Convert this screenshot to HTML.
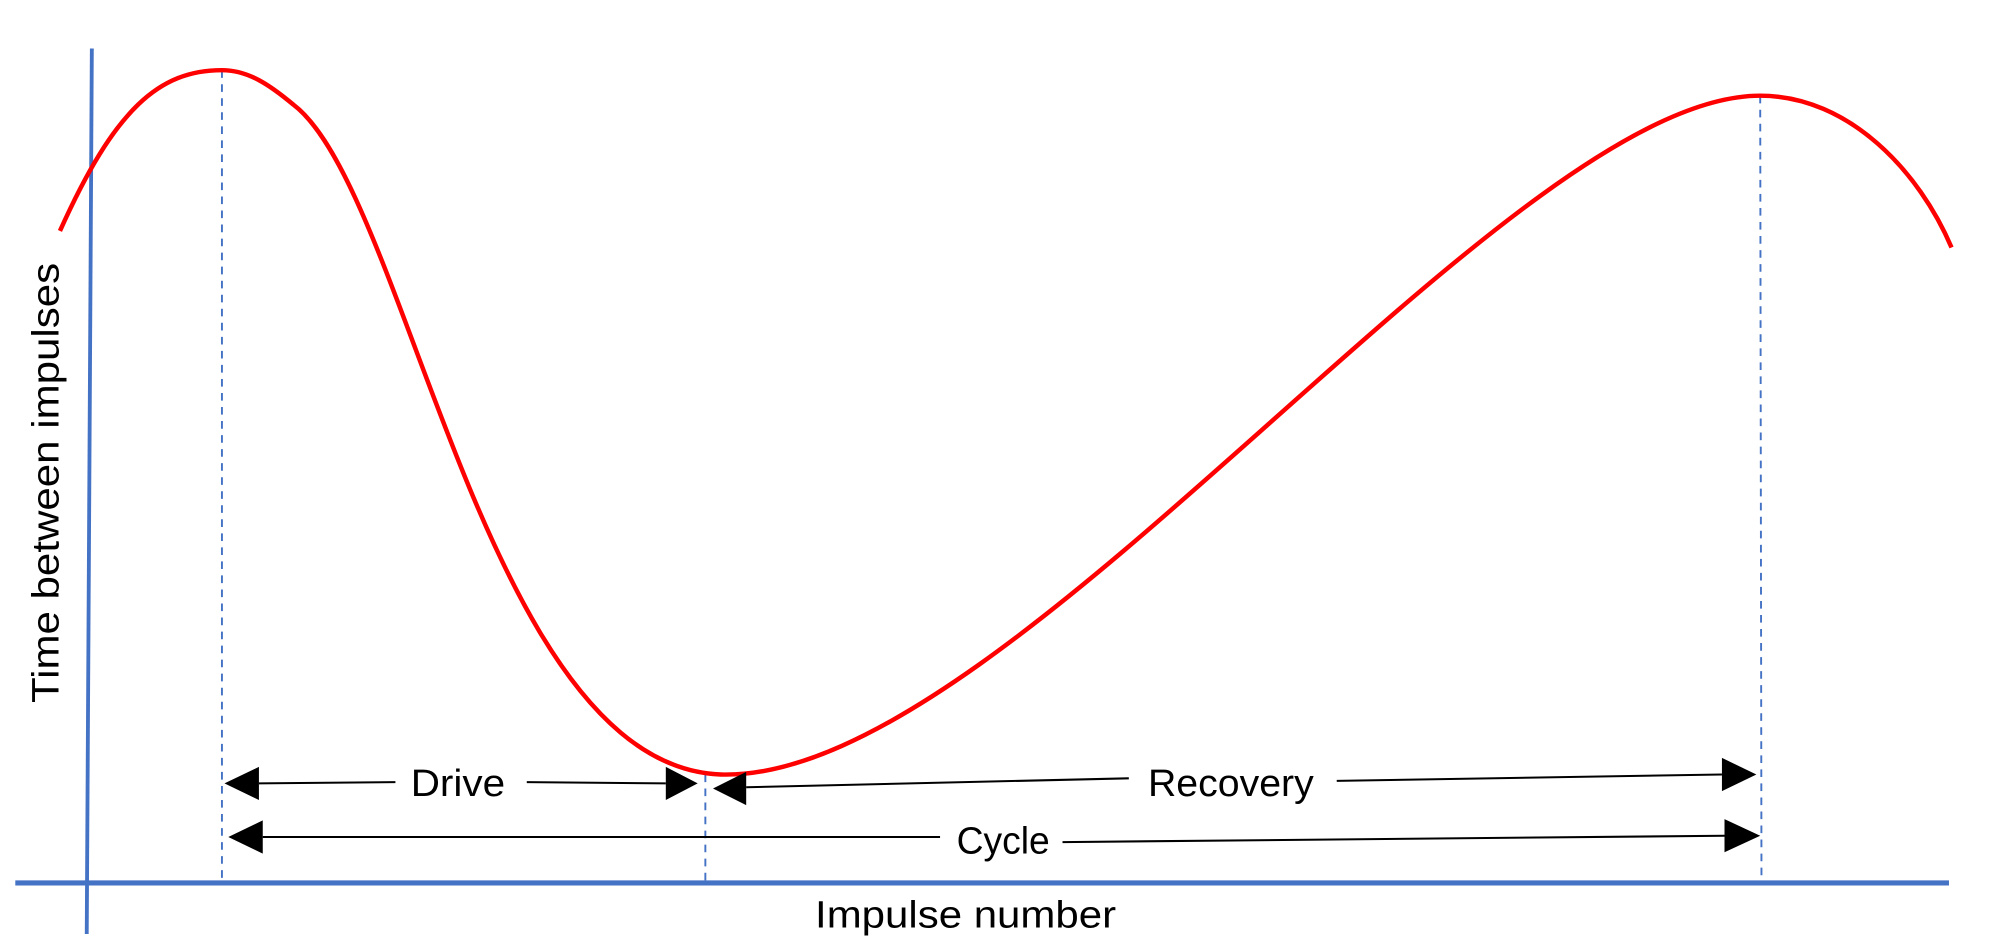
<!DOCTYPE html>
<html><head><meta charset="utf-8"><style>html,body{margin:0;padding:0;background:#fff}svg{display:block}</style></head>
<body>
<svg width="2000" height="948" viewBox="0 0 1568 743" preserveAspectRatio="none" xmlns="http://www.w3.org/2000/svg">
<rect width="1568" height="743" fill="#fff"/>
<g stroke="#4472C4" fill="none">
<line x1="72" y1="38" x2="68" y2="732" stroke-width="3"/>
<line x1="12" y1="692" x2="1528" y2="692" stroke-width="4"/>
<g stroke-width="1.5" stroke-dasharray="6,5">
<line x1="174" y1="55" x2="174" y2="692"/>
<line x1="553" y1="607" x2="553" y2="692"/>
<line x1="1380" y1="75" x2="1381" y2="692"/>
</g>
</g>
<path d="M47,181 C90,85 125,55 174,55 C195,55 212,67 230,82 C320,150 380,600 565,607 C790,614 1180,75 1380,75 C1450,75 1505,135 1530,194" stroke="#FF0000" stroke-width="3.5" fill="none"/>
<g stroke="#000" stroke-width="1.6">
<line x1="203" y1="614" x2="310" y2="613"/>
<line x1="413" y1="613" x2="522" y2="614"/>
<line x1="585" y1="617" x2="885" y2="610"/>
<line x1="1048" y1="612" x2="1350" y2="607"/>
<line x1="206" y1="656" x2="737" y2="656"/>
<line x1="833" y1="660" x2="1352" y2="655"/>
</g>
<g fill="#000">
<polygon points="176,614 203,601 203,627"/>
<polygon points="547,614 522,601 522,627"/>
<polygon points="559,618 585,605 585,631"/>
<polygon points="1377,607 1350,594 1350,620"/>
<polygon points="179,656 206,643 206,669"/>
<polygon points="1380,655 1352,642 1352,668"/>
</g>
<g font-family="Liberation Sans, sans-serif" font-size="30" fill="#000">
<text x="322" y="624" textLength="74" lengthAdjust="spacingAndGlyphs">Drive</text>
<text x="900" y="624" textLength="130" lengthAdjust="spacingAndGlyphs">Recovery</text>
<text x="750" y="669" textLength="73" lengthAdjust="spacingAndGlyphs">Cycle</text>
<text x="639" y="727" textLength="236" lengthAdjust="spacingAndGlyphs">Impulse number</text>
<text transform="translate(46,551) rotate(-90)" x="0" y="0" textLength="345" lengthAdjust="spacingAndGlyphs">Time between impulses</text>
</g>
</svg>
</body></html>
